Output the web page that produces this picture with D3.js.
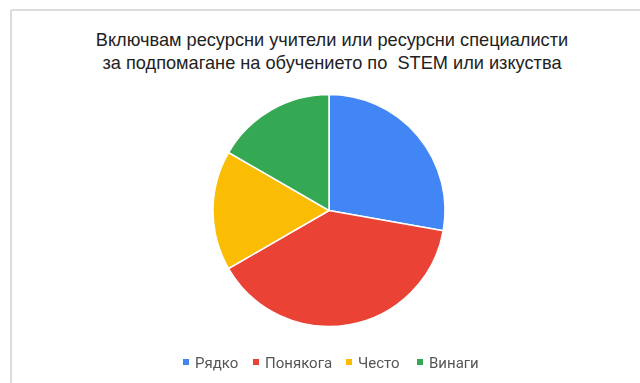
<!DOCTYPE html>
<html>
<head>
<meta charset="utf-8">
<script src="https://cdn.jsdelivr.net/npm/d3@7"></script>
<style>
  html, body { margin: 0; padding: 0; background: #fff; }
  svg { display: block; }
</style>
</head>
<body>
<svg id="chart" width="640" height="383"></svg>
<script>
// Responses to the survey question
const categories = ["Рядко", "Понякога", "Често", "Винаги"];
const counts = [5, 7, 3, 3];
const colors = ["#4285F4", "#EA4335", "#FBBC04", "#34A853"];
const titleLines = [
  "Включвам ресурсни учители или ресурсни специалисти",
  "за подпомагане на обучението по  STEM или изкуства"
];

const svg = d3.select("#chart");
const W = 640, H = 383;

const defs = svg.append("defs");
defs.append("filter").attr("id", "soft")
  .append("feGaussianBlur").attr("stdDeviation", 0.45);

// Frame lines along the top and left edge
svg.append("line").attr("x1", 11).attr("x2", W).attr("y1", 10).attr("y2", 10)
  .attr("stroke", "#dcdcdc").attr("stroke-width", 2);
svg.append("line").attr("x1", 11).attr("x2", 11).attr("y1", 10).attr("y2", H)
  .attr("stroke", "#dcdcdc").attr("stroke-width", 2);

// Title
svg.append("g").selectAll("text").data(titleLines).join("text")
  .attr("x", 332).attr("y", (d, i) => 46 + i * 23)
  .attr("text-anchor", "middle")
  .attr("font-family", "'Liberation Sans', Arial, sans-serif")
  .attr("font-size", 18.2)
  .attr("fill", "#222")
  .style("white-space", "pre")
  .text(d => d);

// Pie
const cx = 329, cy = 210.5, r = 116;
const color = d3.scaleOrdinal().domain(categories).range(colors);
const pie = d3.pie().sort(null).value(d => d.value);
const arc = d3.arc().innerRadius(0).outerRadius(r);
const data = categories.map((c, i) => ({ name: c, value: counts[i] }));

svg.append("g").attr("transform", `translate(${cx},${cy})`)
  .selectAll("path").data(pie(data)).join("path")
  .attr("d", arc)
  .attr("fill", d => color(d.data.name))
  .attr("stroke", "#fff")
  .attr("stroke-width", 1.5)
  .attr("stroke-linejoin", "round");

// Legend
const legendTextX = [195, 265, 358, 429];
const legend = svg.append("g").attr("filter", "url(#soft)")
  .selectAll("g").data(categories).join("g")
  .attr("transform", (d, i) => `translate(${legendTextX[i]},362)`);
legend.append("rect")
  .attr("x", -12).attr("y", -3).attr("width", 6).attr("height", 6)
  .attr("fill", d => color(d));
legend.append("text")
  .attr("x", 0).attr("y", 5.5)
  .attr("font-family", "Roboto, 'Noto Sans', sans-serif")
  .attr("font-size", 15)
  .attr("fill", "#555")
  .text(d => d);
</script>
</body>
</html>
